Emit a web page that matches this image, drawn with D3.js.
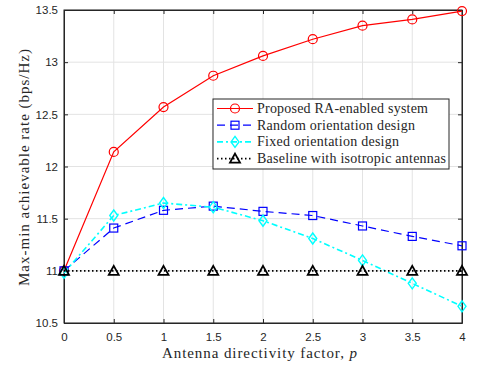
<!DOCTYPE html>
<html>
<head>
<meta charset="utf-8">
<script src="https://cdn.jsdelivr.net/npm/d3@7"></script>
<style>
  body { margin: 0; background: #fff; }
  .tick text { font-family: "Liberation Sans", Arial, sans-serif; font-size: 11.5px; fill: #262626; }
  .lab { font-family: "Liberation Serif", "DejaVu Serif", serif; fill: #262626; }
</style>
</head>
<body>
<svg id="chart" width="477" height="367"></svg>
<script>
// data
const factors = [0, 0.5, 1, 1.5, 2, 2.5, 3, 3.5, 4];
const proposed = [11.0, 12.14, 12.57, 12.87, 13.06, 13.22, 13.35, 13.41, 13.49];
const randomOrient = [11.0, 11.41, 11.58, 11.62, 11.57, 11.53, 11.43, 11.33, 11.24];
const fixedOrient = [10.98, 11.53, 11.65, 11.61, 11.48, 11.31, 11.10, 10.88, 10.66];
const baseline = [11, 11, 11, 11, 11, 11, 11, 11, 11];
const xTicks = [0, 0.5, 1, 1.5, 2, 2.5, 3, 3.5, 4];
const yTicks = [10.5, 11, 11.5, 12, 12.5, 13, 13.5];
const legendNames = ['Proposed RA-enabled system', 'Random orientation design',
  'Fixed orientation design', 'Baseline with isotropic antennas'];

const margin = { left: 64, top: 10, right: 15, bottom: 44 };
const width = 477, height = 367;
const pw = width - margin.left - margin.right;
const ph = height - margin.top - margin.bottom;

const svg = d3.select('#chart');
const g = svg.append('g').attr('transform', `translate(${margin.left},${margin.top})`);

const x = d3.scaleLinear().domain([0, 4]).range([0, pw]);
const y = d3.scaleLinear().domain([10.5, 13.5]).range([ph, 0]);

// grid
g.append('g').selectAll('line').data(xTicks).join('line')
  .attr('x1', d => x(d)).attr('x2', d => x(d)).attr('y1', 0).attr('y2', ph)
  .attr('stroke', '#e3e3e3').attr('stroke-width', 1);
g.append('g').selectAll('line').data(yTicks).join('line')
  .attr('y1', d => y(d)).attr('y2', d => y(d)).attr('x1', 0).attr('x2', pw)
  .attr('stroke', '#e3e3e3').attr('stroke-width', 1);

// axes, ticks pointing in on all four sides
const fmt = d => String(d);
g.append('g').attr('transform', `translate(0,${ph})`)
  .call(d3.axisBottom(x).tickValues(xTicks).tickFormat(fmt).tickSizeInner(-4).tickSizeOuter(0).tickPadding(10));
g.append('g')
  .call(d3.axisLeft(y).tickValues(yTicks).tickFormat(fmt).tickSizeInner(-4).tickSizeOuter(0).tickPadding(6));
g.append('g').call(d3.axisTop(x).tickValues(xTicks).tickFormat('').tickSizeInner(-4).tickSizeOuter(0));
g.append('g').attr('transform', `translate(${pw},0)`)
  .call(d3.axisRight(y).tickValues(yTicks).tickFormat('').tickSizeInner(-4).tickSizeOuter(0));
g.selectAll('.domain').attr('stroke', '#262626');
g.selectAll('.tick line').attr('stroke', '#262626');

g.append('rect').attr('width', pw).attr('height', ph)
  .attr('fill', 'none').attr('stroke', '#262626').attr('stroke-width', 1);

const series = [
  { vals: proposed, color: '#ff0000', dash: null, marker: 'circle', w: 1.2, tl: 171 },
  { vals: randomOrient, color: '#0000ff', dash: '8,5', marker: 'square', w: 1.2, tl: 158 },
  { vals: fixedOrient, color: '#00ffff', dash: '6,3,2,3', marker: 'diamond', w: 1.6, tl: 142 },
  { vals: baseline, color: '#000000', dash: '1.5,2.5', marker: 'triangle', w: 1.8, tl: 189 }
];

function drawMarker(sel, type, color) {
  if (type === 'circle') {
    sel.append('circle').attr('r', 4.5).attr('fill', 'none').attr('stroke', color).attr('stroke-width', 1.2);
  } else if (type === 'square') {
    sel.append('rect').attr('x', -4).attr('y', -4).attr('width', 8).attr('height', 8)
      .attr('fill', 'none').attr('stroke', color).attr('stroke-width', 1.2);
  } else if (type === 'diamond') {
    sel.append('path').attr('d', 'M0,-5.5L4,0L0,5.5L-4,0Z')
      .attr('fill', 'none').attr('stroke', color).attr('stroke-width', 1.4);
  } else {
    sel.append('path').attr('d', 'M0,-5L5,4L-5,4Z')
      .attr('fill', 'none').attr('stroke', color).attr('stroke-width', 1.8);
  }
}

const line = d3.line().x((d, i) => x(factors[i])).y(d => y(d));
series.forEach(s => {
  g.append('path').datum(s.vals).attr('d', line)
    .attr('fill', 'none').attr('stroke', s.color).attr('stroke-width', s.w)
    .attr('stroke-dasharray', s.dash);
  s.vals.forEach((v, i) => {
    const m = g.append('g').attr('transform', `translate(${x(factors[i])},${y(v)})`);
    drawMarker(m, s.marker, s.color);
  });
});

// legend
const lg = svg.append('g').attr('transform', 'translate(213,99)');
lg.append('rect').attr('width', 236).attr('height', 70)
  .attr('fill', '#fff').attr('stroke', '#262626').attr('stroke-width', 1);
series.forEach((s, i) => {
  const yy = 9.5 + i * 16.7;
  lg.append('line').attr('x1', 4).attr('x2', 40).attr('y1', yy).attr('y2', yy)
    .attr('stroke', s.color).attr('stroke-width', s.w).attr('stroke-dasharray', s.dash);
  drawMarker(lg.append('g').attr('transform', `translate(22,${yy})`), s.marker, s.color);
  lg.append('text').attr('class', 'lab').attr('x', 44).attr('y', yy + 4.5)
    .attr('font-size', 14).attr('textLength', s.tl).attr('lengthAdjust', 'spacing')
    .text(legendNames[i]);
});

// axis labels
svg.append('text').attr('class', 'lab').attr('x', 162).attr('y', 358)
  .attr('font-size', 15).attr('textLength', 195).attr('lengthAdjust', 'spacing')
  .call(t => { t.append('tspan').text('Antenna directivity factor, '); t.append('tspan').attr('font-style', 'italic').text('p'); });
svg.append('text').attr('class', 'lab')
  .attr('transform', `translate(29,${margin.top + ph / 2 + 1}) rotate(-90)`)
  .attr('text-anchor', 'middle').attr('font-size', 15)
  .attr('textLength', 237).attr('lengthAdjust', 'spacing')
  .text('Max-min achievable rate (bps/Hz)');
</script>
</body>
</html>
